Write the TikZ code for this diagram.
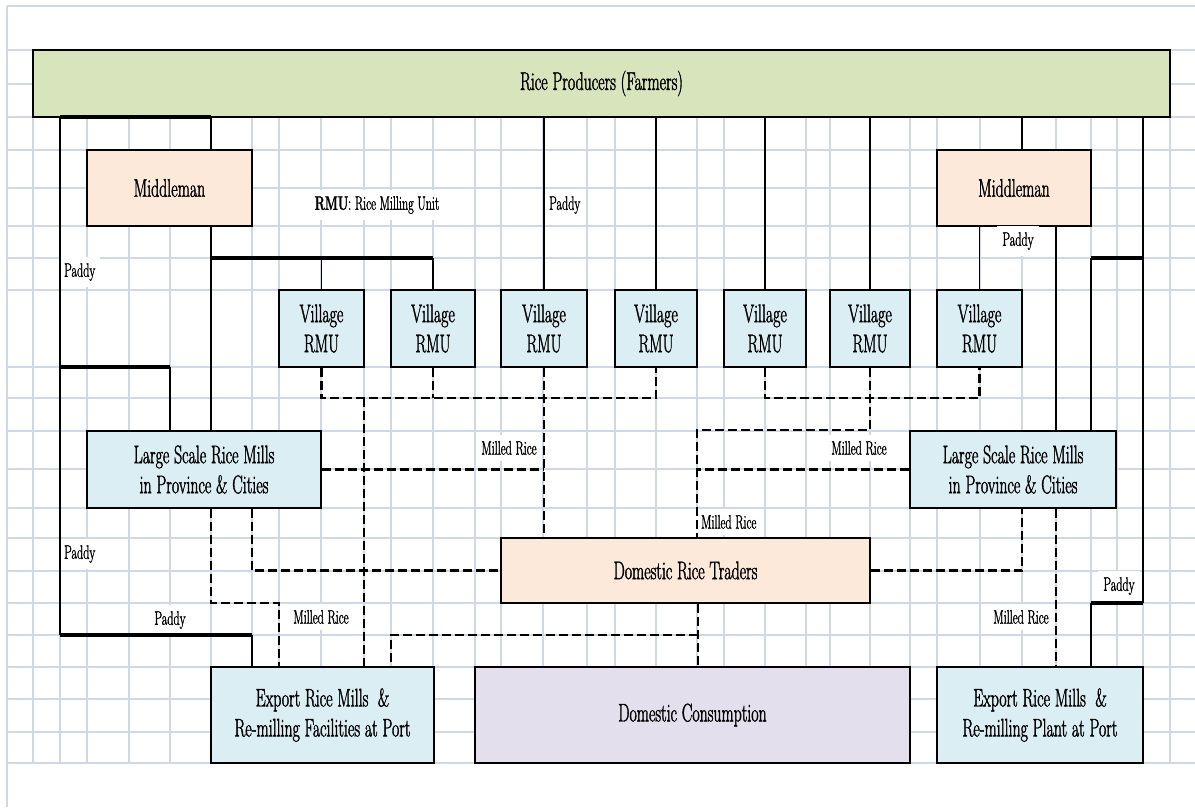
\documentclass[tikz,border=0pt]{standalone}
\usepackage{fontspec}
\setmainfont{Latin Modern Roman}[FakeStretch=0.62, FakeBold=1.4]

\definecolor{prodgreen}{HTML}{D8E4BC}
\definecolor{tradeorange}{HTML}{FDE9D9}
\definecolor{millblue}{HTML}{DAEEF3}
\definecolor{conspurple}{HTML}{E4DFEC}
\definecolor{sheetgrid}{HTML}{D0D7E5}

\newcommand{\boxfont}{\fontsize{25.5}{30}\selectfont}
\newcommand{\tagfont}{\fontsize{19.5}{22}\selectfont}

\tikzset{
  gridline/.style = {draw = sheetgrid, line width = 1.2pt},
  box/.style      = {draw, line width = 1.6pt, inner sep = 0pt, align = center, font = \boxfont},
  tag/.style      = {fill = white, inner xsep = 5pt, inner ysep = 6pt, font = \tagfont},
  flow/.style     = {line width = 1.8pt},
  bar/.style      = {line width = 3.2pt},
  milled/.style   = {line width = 2.6pt, dash pattern = on 9pt off 4pt},
}

\begin{document}
\begin{tikzpicture}[x = 1pt, y = -1pt]

  \useasboundingbox (0,0) rectangle (1195,807);

  % Sheet grid
  \draw[gridline] (7,6) -- (1195,6);
  \draw[gridline] (7,6) -- (7,807);
  \foreach \gx in {33,60,87,129,170,211,252,279,321,364,391,433,475,501,543,587,615,656,697,724,765,806,830,870,910,937,980,1022,1056,1091,1117,1143,1170}
    \draw[gridline] (\gx,50) -- (\gx,763);
  \foreach \gy in {50,84,117,150,188,226,258,290,367,398,431,469,508,538,571,603,635,667,699,732,763}
    \draw[gridline] (7,\gy) -- (1195,\gy);

  % Producers and middlemen
  \node[box, fill = prodgreen,   minimum width = 1137pt, minimum height = 67pt] (prod) at (601.5, 83.5) {Rice Producers (Farmers)};
  \node[box, fill = tradeorange, minimum width = 165pt,  minimum height = 76pt] (mmL)  at (169.5, 188)  {Middleman};
  \node[box, fill = tradeorange, minimum width = 154pt,  minimum height = 76pt] (mmR)  at (1014,  188)  {Middleman};

  % Village rice milling units
  \node[box, fill = millblue, minimum width = 85pt, minimum height = 77pt] (v1) at (321.5, 328.5) {Village\\RMU};
  \node[box, fill = millblue, minimum width = 84pt, minimum height = 77pt] (v2) at (433,   328.5) {Village\\RMU};
  \node[box, fill = millblue, minimum width = 86pt, minimum height = 77pt] (v3) at (544,   328.5) {Village\\RMU};
  \node[box, fill = millblue, minimum width = 82pt, minimum height = 77pt] (v4) at (656,   328.5) {Village\\RMU};
  \node[box, fill = millblue, minimum width = 82pt, minimum height = 77pt] (v5) at (765,   328.5) {Village\\RMU};
  \node[box, fill = millblue, minimum width = 80pt, minimum height = 77pt] (v6) at (870,   328.5) {Village\\RMU};
  \node[box, fill = millblue, minimum width = 85pt, minimum height = 77pt] (v7) at (979.5, 328.5) {Village\\RMU};

  % Large mills, traders, end points
  \node[box, fill = millblue,    minimum width = 234pt, minimum height = 77pt] (lgL)  at (204,   469.5) {Large Scale Rice Mills\\in Province \& Cities};
  \node[box, fill = millblue,    minimum width = 206pt, minimum height = 77pt] (lgR)  at (1013,  469.5) {Large Scale Rice Mills\\in Province \& Cities};
  \node[box, fill = tradeorange, minimum width = 369pt, minimum height = 65pt] (trd)  at (685.5, 570.5) {Domestic Rice Traders};
  \node[box, fill = millblue,    minimum width = 223pt, minimum height = 96pt] (expL) at (322.5, 715)   {Export Rice Mills\ \ \&\\Re-milling Facilities at Port};
  \node[box, fill = conspurple,  minimum width = 435pt, minimum height = 96pt] (cons) at (692.5, 715)   {Domestic Consumption};
  \node[box, fill = millblue,    minimum width = 206pt, minimum height = 96pt] (expR) at (1040,  715)   {Export Rice Mills\ \ \&\\Re-milling Plant at Port};

  % Labels
  \node[tag, anchor = west] (pad1)  at (59, 272)  {Paddy};
  \node[tag]                (key)   at (377, 205) {\textbf{RMU}: Rice Milling Unit};
  \node[tag, anchor = west] (pad2)  at (544, 205) {Paddy};
  \node[tag]                (pad3)  at (1018, 241) {Paddy};
  \node[tag]                (mill1) at (509, 448) {Milled Rice};
  \node[tag]                (mill2) at (859, 448) {Milled Rice};
  \node[tag, anchor = west] (mill3) at (696, 522) {Milled Rice};
  \node[tag, anchor = west] (pad4)  at (59, 554)  {Paddy};
  \node[tag]                (pad5)  at (170, 620) {Paddy};
  \node[tag]                (mill4) at (321, 617) {Milled Rice};
  \node[tag]                (mill5) at (1021, 617) {Milled Rice};
  \node[tag]                (pad6)  at (1119, 586) {Paddy};

  % Turning points
  \coordinate (pL)  at (60, 117);
  \coordinate (mL)  at (211, 117);
  \coordinate (jL)  at (211, 258);
  \coordinate (kL)  at (60, 367);
  \coordinate (kLe) at (170, 367);
  \coordinate (bL)  at (60, 635);
  \coordinate (eL)  at (252, 635);
  \coordinate (pR)  at (1143, 117);
  \coordinate (mR)  at (1022, 117);
  \coordinate (mRb) at (1056, 226);
  \coordinate (jR)  at (1091, 258);
  \coordinate (bR)  at (1091, 603);

  % Paddy flows, left
  \draw[bar]  (pL) -- (mL);
  \draw[flow] (mL) -- (mL |- mmL.north);
  \draw[flow] (pL) -- (bL);
  \draw[bar]  (bL) -- (eL);
  \draw[flow] (eL) -- (eL |- expL.north);
  \draw[flow] (mmL.south -| mL) -- (lgL.north -| mL);
  \draw[bar]  (jL) -- (jL -| v2.north);
  \draw[flow] (jL -| v1.north) -- (v1.north);
  \draw[flow] (jL -| v2.north) -- (v2.north);
  \draw[bar]  (kL) -- (kLe);
  \draw[flow] (kLe) -- (kLe |- lgL.north);

  % Paddy flows, middle
  \foreach \v in {v3, v4, v5, v6}
    \draw[flow] (prod.south -| \v.north) -- (\v.north);

  % Paddy flows, right
  \draw[flow] (mR) -- (mR |- mmR.north);
  \draw[flow] (mmR.south -| v7.north) -- (v7.north);
  \draw[flow] (mRb) -- (mRb |- lgR.north);
  \draw[flow] (pR) -- (pR |- bR);
  \draw[bar]  (pR |- bR) -- (bR);
  \draw[flow] (bR) -- (bR |- expR.north);
  \draw[bar]  (pR |- jR) -- (jR);
  \draw[flow] (jR) -- (jR |- lgR.north);

  % Milled rice flows
  \coordinate (collect) at (364, 398);
  \coordinate (turnR)   at (697, 430);
  \coordinate (drop1)   at (211, 603);
  \coordinate (drop2)   at (279, 603);
  \coordinate (drop3)   at (252, 571);
  \coordinate (rise)    at (1022, 508);
  \coordinate (sink)    at (698, 635);
  \coordinate (sinkL)   at (391, 635);

  \draw[milled] (v1.south) -- (v1.south |- collect) -- (v4.south |- collect) -- (v4.south);
  \draw[milled] (v2.south) -- (v2.south |- collect);
  \draw[milled] (v3.south) -- (v3.south |- trd.north);
  \draw[milled] (collect) -- (collect |- expL.north);
  \draw[milled] (v5.south) -- (v5.south |- collect) -- (v7.south |- collect) -- (v7.south);
  \draw[milled] (v6.south) -- (v6.south |- turnR) -- (turnR) -- (turnR |- trd.north);
  \draw[milled] (lgR.west) -- (lgR.west -| turnR);
  \draw[milled] (lgL.east) -- (lgL.east -| v3.south);
  \draw[milled] (lgL.south -| drop1) -- (drop1) -- (drop2) -- (drop2 |- expL.north);
  \draw[milled] (lgL.south -| drop3) -- (drop3 |- trd.west) -- (trd.west);
  \draw[milled] (trd.east) -- (trd.east -| rise) -- (rise |- lgR.south);
  \draw[milled] (lgR.south -| mRb) -- (expR.north -| mRb);
  \draw[milled] (trd.south -| sink) -- (cons.north -| sink);
  \draw[milled] (sink) -- (sinkL) -- (sinkL |- expL.north);

\end{tikzpicture}
\end{document}
